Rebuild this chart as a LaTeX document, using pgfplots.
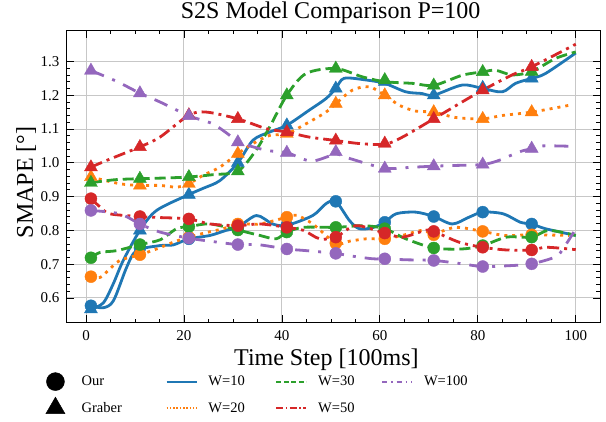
\documentclass[border=0pt]{standalone}
\usepackage{fontspec}
\setmainfont{Liberation Serif}
\usepackage{pgfplots}
\pgfplotsset{compat=1.18}
\usepackage{pgfplotstable}

\definecolor{tabblue}{HTML}{1F77B4}
\definecolor{taborange}{HTML}{FF7F0E}
\definecolor{tabgreen}{HTML}{2CA02C}
\definecolor{tabred}{HTML}{D62728}
\definecolor{tabpurple}{HTML}{9467BD}

% values at the marked time steps (circles: Our, triangles: Graber)
\pgfplotstableread{
x   w10   w20   w30   w50   w100
1   0.577 0.663 0.719 0.894 0.859
11  0.748 0.728 0.758 0.841 0.819
21  0.775 0.780 0.811 0.834 0.777
31  0.809 0.819 0.801 0.814 0.758
41  0.815 0.839 0.795 0.809 0.745
51  0.886 0.762 0.809 0.780 0.732
61  0.824 0.775 0.805 0.792 0.716
71  0.841 0.787 0.748 0.797 0.711
81  0.854 0.797 0.755 0.750 0.693
91  0.819 0.787 0.780 0.742 0.701
}\ourmarks

\pgfplotstableread{
x   w10   w20   w30   w50   w100
1   0.567 0.958 0.941 0.987 1.273
11  0.800 0.933 0.953 1.047 1.206
21  0.906 0.938 0.958 1.141 1.139
31  1.000 1.027 0.975 1.130 1.061
41  1.111 1.086 1.200 1.091 1.030
51  1.220 1.175 1.279 1.066 1.032
61  1.240 1.200 1.245 1.057 0.983
71  1.200 1.150 1.229 1.130 0.990
81  1.222 1.130 1.269 1.215 0.995
91  1.250 1.150 1.270 1.284 1.042
}\grabermarks

\pgfplotsset{
  s10/.style={tabblue, line width=2.8pt, solid},
  s20/.style={taborange, line width=2.8pt, dash pattern=on 3pt off 5pt},
  s30/.style={tabgreen, line width=2.8pt, dash pattern=on 11pt off 5pt},
  s50/.style={tabred, line width=2.8pt, dash pattern=on 12pt off 5pt on 3pt off 5pt},
  s100/.style={tabpurple, line width=2.8pt, dash pattern=on 14pt off 9pt on 3pt off 9pt},
  ourmk/.style={only marks, mark=*, mark size=6pt, mark options={solid}},
  grmk/.style={only marks, mark=triangle*, mark size=7.5pt, mark options={solid}},
  markleg/.style={legend image code/.code={%
      \path (0pt,-8pt) (30pt,8pt);
      \draw[##1] plot[only marks] coordinates {(15pt,0pt)};}},
  lineleg/.style={legend image code/.code={%
      \draw[##1] (0pt,0pt) -- (30pt,0pt);}},
}

\begin{document}
\begin{tikzpicture}
\begin{axis}[
  scale only axis,
  width=533.3pt, height=291.3pt,
  xmin=-3.95, xmax=104.95,
  ymin=0.528, ymax=1.390,
  xtick={0,20,...,100},
  ytick={0.6,0.7,...,1.31},
  minor x tick num=3,
  minor y tick num=4,
  tick align=inside,
  xtick pos=both, ytick pos=both,
  major tick length=7pt, minor tick length=3.5pt,
  tick style={black, line width=0.8pt},
  axis line style={black, line width=1pt},
  grid=major,
  major grid style={color=black!22, line width=1pt},
  /pgf/number format/assume math mode=true,
  ticklabel style={font=\fontsize{15}{18}\selectfont},
  yticklabel style={/pgf/number format/.cd, fixed, fixed zerofill, precision=1, /tikz/.cd, xshift=-3.7pt},
  xticklabel style={anchor=base, yshift=-17.7pt},
  every axis title shift=0pt,
  title={S2S Model Comparison P=100},
  title style={at={(axis description cs:0.495,1)}, anchor=base, yshift=12.5pt, font=\fontsize{24}{28}\selectfont},
  xlabel={Time Step [100ms]},
  xlabel style={at={(axis description cs:0.487,0)}, anchor=base, yshift=-43.5pt, font=\fontsize{24}{28}\selectfont},
  ylabel={SMAPE [°]},
  ylabel style={at={(axis description cs:-0.0632,0.48)}, anchor=base, font=\fontsize{24}{28}\selectfont},
  legend columns=4,
  legend cell align=left,
  legend style={draw=none, fill=none, at={(axis description cs:-0.050,-0.172)}, anchor=north west,
    font=\fontsize{14.5}{17}\selectfont, inner sep=0pt, row sep=6.5pt,
    nodes={inner sep=0pt},
    /tikz/every odd column/.append style={column sep=11pt},
    /tikz/every even column/.append style={column sep=0pt}},
]

% ---------- W=10 ----------
\addplot[s10, smooth, forget plot] coordinates {
(1,0.577) (3.5,0.571) (5.6,0.592) (8.3,0.691) (10.3,0.74) (15.1,0.755) (17.8,0.757)
(21,0.775) (25.3,0.785) (28.6,0.80) (31,0.809) (34.8,0.844) (38.1,0.819) (41,0.815)
(46.3,0.844) (49,0.879) (51,0.886) (53.8,0.829) (55.8,0.805) (58.5,0.808) (61,0.824)
(63.3,0.849) (67.3,0.854) (71,0.841) (74.8,0.819) (78.2,0.839) (81,0.854) (85.2,0.849)
(88.7,0.824) (91,0.819) (93.8,0.805) (100,0.785)};
\addplot[tabblue, ourmk, forget plot] table[x=x, y=w10] {\ourmarks};
\addplot[s10, smooth, forget plot] coordinates {
(1,0.567) (3.5,0.585) (5.5,0.64) (7.6,0.711) (11,0.80) (14.4,0.859) (21,0.906)
(24,0.925) (27.3,0.947) (31,1.0) (34.1,1.067) (37.5,1.091) (41,1.111) (45.6,1.156)
(49,1.19) (51,1.22) (52.7,1.25) (57.2,1.245) (61,1.235) (65.3,1.21) (68.6,1.205)
(71,1.2) (76.8,1.23) (81,1.22) (85,1.21) (87.7,1.235) (91,1.25) (93.8,1.264) (100,1.325)};
\addplot[tabblue, grmk, forget plot] table[x=x, y=w10] {\grabermarks};

% ---------- W=20 ----------
\addplot[s20, smooth, forget plot] coordinates {
(1,0.663) (2.9,0.661) (4.5,0.681) (6.9,0.711) (11,0.728) (14.4,0.745) (17.8,0.765)
(21,0.78) (25,0.795) (28,0.805) (31,0.819) (35.5,0.819) (41,0.839) (43,0.845)
(46.3,0.819) (51,0.762) (53.8,0.768) (57.2,0.775) (61,0.775) (64.6,0.785) (68.6,0.80)
(71,0.79) (75.5,0.809) (81,0.797) (85.5,0.785) (91,0.787) (98.6,0.785)};
\addplot[taborange, ourmk, forget plot] table[x=x, y=w20] {\ourmarks};
\addplot[s20, smooth, forget plot] coordinates {
(1,0.958) (6.9,0.938) (11,0.933) (15.1,0.933) (18.5,0.928) (21,0.938) (23.9,0.963)
(27.3,0.987) (31,1.027) (34.1,1.057) (37.5,1.081) (41,1.086) (45.6,1.121) (49,1.15)
(51,1.175) (54.4,1.215) (57.8,1.225) (61,1.2) (64,1.17) (67.3,1.153) (71,1.15)
(75.5,1.134) (81,1.13) (85,1.14) (91,1.15) (98.6,1.17)};
\addplot[taborange, grmk, forget plot] table[x=x, y=w20] {\grabermarks};

% ---------- W=30 ----------
\addplot[s30, smooth, forget plot] coordinates {
(1,0.719) (2.9,0.735) (6.25,0.74) (11,0.758) (15.1,0.772) (18.5,0.805) (21,0.811)
(25.3,0.819) (31,0.801) (35.5,0.785) (38.8,0.775) (41,0.795) (44.4,0.809) (51,0.809)
(56.5,0.814) (61,0.805) (65.3,0.775) (71,0.748) (76.8,0.745) (81,0.755) (85.9,0.78)
(91,0.78) (94.5,0.80) (100,0.785)};
\addplot[tabgreen, ourmk, forget plot] table[x=x, y=w30] {\ourmarks};
\addplot[s30, smooth, forget plot] coordinates {
(1,0.941) (6,0.95) (11,0.953) (16,0.955) (21,0.958) (26,0.965) (31,0.975) (34.7,1.037)
(37.5,1.106) (41,1.2) (44.9,1.264) (51,1.279) (56.5,1.254) (61,1.24) (66.7,1.235)
(71,1.229) (76.8,1.259) (81,1.269) (83.6,1.274) (87,1.26) (91,1.27) (95.9,1.309) (100,1.328)};
\addplot[tabgreen, grmk, forget plot] table[x=x, y=w30] {\grabermarks};

% ---------- W=50 ----------
\addplot[s50, smooth, forget plot] coordinates {
(1,0.894) (2.9,0.869) (4.9,0.849) (11,0.841) (15,0.838) (21,0.834) (25.3,0.819)
(31,0.814) (35.5,0.819) (41,0.809) (44.4,0.80) (47.7,0.775) (51,0.78) (55.1,0.814)
(61,0.792) (64.6,0.78) (69.3,0.80) (71,0.797) (76.2,0.765) (81,0.75) (85.9,0.742)
(91,0.742) (94,0.75) (100,0.743)};
\addplot[tabred, ourmk, forget plot] table[x=x, y=w50] {\ourmarks};
\addplot[s50, smooth, forget plot] coordinates {
(1,0.987) (4.2,1.007) (11,1.047) (15.1,1.076) (21,1.141) (24.6,1.15) (31,1.13)
(36.8,1.101) (41,1.091) (45.6,1.076) (51,1.066) (55.8,1.057) (61,1.055) (64.6,1.076)
(71,1.13) (76.8,1.18) (81,1.215) (87,1.26) (91,1.284) (100,1.351)};
\addplot[tabred, grmk, forget plot] table[x=x, y=w50] {\grabermarks};

% ---------- W=100 ----------
\addplot[s100, smooth, forget plot] coordinates {
(1,0.859) (6.9,0.849) (11,0.819) (15.1,0.795) (21,0.777) (25.3,0.768) (31,0.758)
(35,0.758) (41,0.745) (45,0.74) (51,0.732) (53.8,0.725) (58.5,0.716) (61,0.716)
(65.3,0.713) (71,0.711) (76.8,0.701) (81,0.693) (87,0.696) (91,0.701) (95.9,0.722)
(97.6,0.75) (99.6,0.795)};
\addplot[tabpurple, ourmk, forget plot] table[x=x, y=w100] {\ourmarks};
\addplot[s100, smooth, forget plot] coordinates {
(1,1.273) (6.25,1.241) (11,1.206) (15.1,1.18) (21,1.139) (25.9,1.115) (29.8,1.076)
(31,1.061) (36.8,1.037) (41,1.03) (46,1.005) (51,1.025) (54,1.012) (61,0.984)
(66.7,0.987) (71,0.99) (75,0.992) (81,0.995) (84.3,1.007) (88.4,1.032) (91,1.042)
(93.3,1.05) (98.6,1.049)};
\addplot[tabpurple, grmk, forget plot] table[x=x, y=w100] {\grabermarks};

% ---------- legend ----------
\addlegendimage{markleg, black, mark=*, mark size=9pt}
\addlegendentry{\makebox[84pt][l]{Our}}
\addlegendimage{lineleg, tabblue, line width=1.8pt}
\addlegendentry{\makebox[67pt][l]{W=10}}
\addlegendimage{lineleg, tabgreen, line width=1.8pt, dash pattern=on 5pt off 2.5pt}
\addlegendentry{\makebox[63pt][l]{W=30}}
\addlegendimage{lineleg, tabpurple, line width=1.8pt, dash pattern=on 5pt off 4pt on 1.5pt off 4pt}
\addlegendentry{W=100}
\addlegendimage{markleg, black, mark=triangle*, mark size=11pt}
\addlegendentry{\makebox[84pt][l]{Graber}}
\addlegendimage{lineleg, taborange, line width=1.8pt, dash pattern=on 1.5pt off 1.8pt}
\addlegendentry{\makebox[67pt][l]{W=20}}
\addlegendimage{lineleg, tabred, line width=1.8pt, dash pattern=on 7pt off 2.5pt on 1.5pt off 2.5pt}
\addlegendentry{\makebox[63pt][l]{W=50}}
\end{axis}
\pgfresetboundingbox
\path (current axis.south west) ++(-66.7pt,-98.7pt) rectangle ++(606pt,421pt);
\end{tikzpicture}
\end{document}
